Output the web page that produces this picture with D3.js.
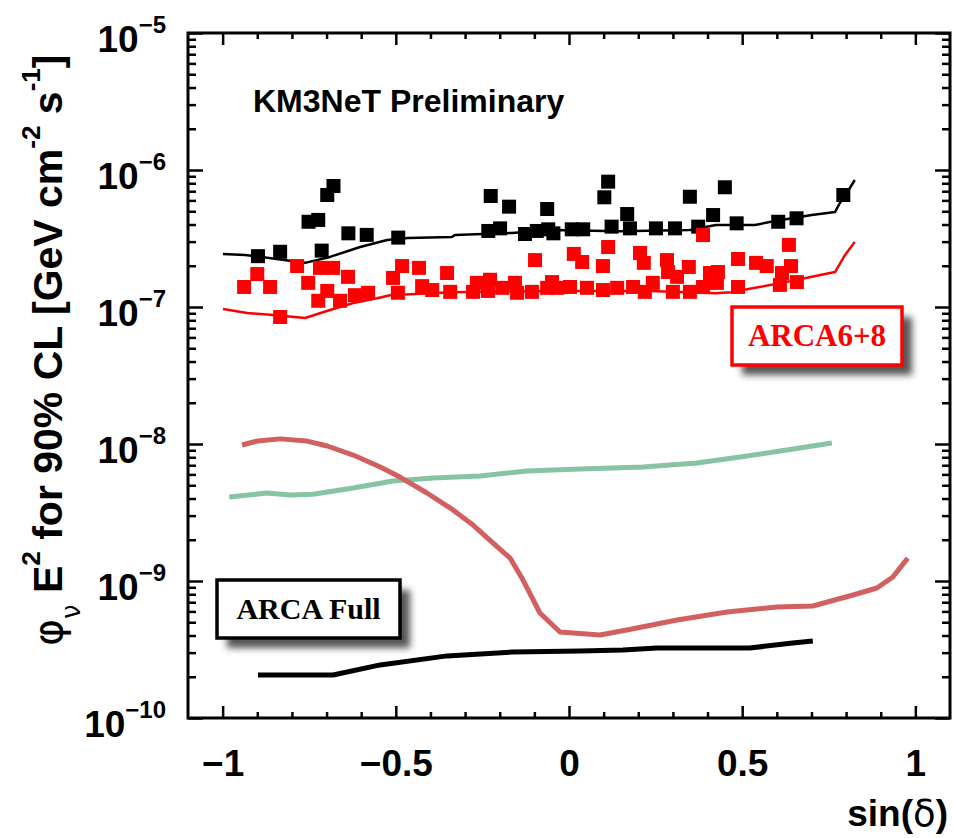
<!DOCTYPE html>
<html>
<head>
<meta charset="utf-8">
<script src="https://cdn.jsdelivr.net/npm/d3@7"></script>
<style>
  body { margin: 0; background: #fff; }
  svg { display: block; font-family: "Liberation Sans", Arial, sans-serif; }
</style>
</head>
<body>
<svg id="chart" width="953" height="838"></svg>
<script>
// [sin(dec), flux]

// ARCA6+8 per-source upper limits
const arca68Limits = [
    [-0.898, 2.35e-7], [-0.834, 2.53e-7], [-0.680, 7.64e-7], [-0.698, 6.57e-7],
    [-0.752, 4.19e-7], [-0.724, 4.32e-7], [-0.714, 2.58e-7], [-0.637, 3.45e-7],
    [-0.584, 3.36e-7], [-0.493, 3.21e-7], [-0.226, 6.46e-7], [-0.173, 5.40e-7],
    [-0.063, 5.19e-7], [-0.233, 3.59e-7], [-0.199, 3.75e-7], [-0.127, 3.41e-7],
    [-0.093, 3.59e-7], [-0.060, 3.69e-7], [-0.045, 3.45e-7], [0.113, 8.22e-7],
    [0.102, 6.32e-7], [0.349, 6.38e-7], [0.450, 7.48e-7], [0.168, 4.77e-7],
    [0.008, 3.69e-7], [0.041, 3.69e-7], [0.123, 3.86e-7], [0.176, 3.75e-7],
    [0.251, 3.75e-7], [0.306, 3.75e-7], [0.373, 3.86e-7], [0.416, 4.69e-7],
    [0.484, 4.08e-7], [0.604, 4.19e-7], [0.657, 4.44e-7], [0.792, 6.57e-7]
];

// ARCA6+8 red points
const arca68Red = [
    [-0.938, 1.40e-7], [-0.900, 1.74e-7], [-0.863, 1.40e-7], [-0.785, 1.99e-7],
    [-0.753, 1.50e-7], [-0.834, 8.45e-8], [-0.719, 1.93e-7], [-0.681, 1.93e-7],
    [-0.638, 1.66e-7], [-0.698, 1.31e-7], [-0.724, 1.11e-7], [-0.661, 1.11e-7],
    [-0.618, 1.22e-7], [-0.580, 1.27e-7], [-0.508, 1.63e-7], [-0.482, 1.99e-7],
    [-0.433, 1.93e-7], [-0.352, 1.77e-7], [-0.494, 1.27e-7], [-0.424, 1.42e-7],
    [-0.395, 1.33e-7], [-0.343, 1.29e-7], [-0.277, 1.29e-7], [-0.266, 1.50e-7],
    [-0.228, 1.58e-7], [-0.234, 1.31e-7], [-0.193, 1.38e-7], [-0.156, 1.50e-7],
    [-0.150, 1.27e-7], [-0.107, 1.29e-7], [-0.098, 2.20e-7], [-0.063, 1.38e-7],
    [-0.049, 1.52e-7], [-0.035, 1.38e-7], [0.003, 1.40e-7], [0.014, 2.44e-7],
    [0.038, 2.13e-7], [0.052, 1.38e-7], [0.098, 1.33e-7], [0.098, 1.99e-7],
    [0.113, 2.74e-7], [0.139, 1.38e-7], [0.185, 1.40e-7], [0.205, 2.48e-7],
    [0.216, 2.10e-7], [0.219, 1.29e-7], [0.242, 1.50e-7], [0.283, 2.20e-7],
    [0.286, 1.80e-7], [0.300, 1.29e-7], [0.312, 1.66e-7], [0.346, 1.96e-7],
    [0.349, 1.29e-7], [0.387, 3.35e-7], [0.387, 1.40e-7], [0.407, 1.77e-7],
    [0.427, 1.50e-7], [0.430, 1.80e-7], [0.488, 2.24e-7], [0.488, 1.40e-7],
    [0.540, 2.10e-7], [0.571, 1.99e-7], [0.635, 2.84e-7], [0.641, 1.99e-7],
    [0.615, 1.77e-7], [0.609, 1.45e-7], [0.658, 1.52e-7]
];

const arca68BlackLine = [
    [-0.999, 2.44e-7], [-0.935, 2.40e-7], [-0.762, 2.10e-7], [-0.690, 2.32e-7],
    [-0.603, 2.74e-7], [-0.525, 3.08e-7], [-0.465, 3.19e-7], [-0.338, 3.24e-7],
    [-0.329, 3.36e-7], [-0.165, 3.47e-7], [-0.049, 3.65e-7], [0.147, 3.57e-7],
    [0.349, 3.65e-7], [0.424, 3.97e-7], [0.537, 3.97e-7], [0.595, 4.24e-7],
    [0.701, 4.69e-7], [0.768, 4.93e-7], [0.782, 5.74e-7], [0.802, 6.79e-7],
    [0.825, 8.45e-7]
];

const arca68RedLine = [
    [-0.999, 9.67e-8], [-0.929, 9.04e-8], [-0.854, 8.75e-8], [-0.762, 8.31e-8],
    [-0.690, 9.51e-8], [-0.623, 1.07e-7], [-0.554, 1.16e-7], [-0.517, 1.22e-7],
    [-0.343, 1.28e-7], [-0.055, 1.31e-7], [0.234, 1.31e-7], [0.421, 1.26e-7],
    [0.470, 1.28e-7], [0.537, 1.38e-7], [0.615, 1.50e-7], [0.701, 1.66e-7],
    [0.768, 1.80e-7], [0.797, 2.40e-7], [0.825, 2.98e-7]
];

// ARCA full curves
const fullGreen = [
    [-0.981, 4.10e-9], [-0.872, 4.39e-9], [-0.805, 4.24e-9], [-0.739, 4.30e-9],
    [-0.623, 4.77e-9], [-0.508, 5.37e-9], [-0.392, 5.65e-9], [-0.257, 5.84e-9],
    [-0.121, 6.35e-9], [0.032, 6.57e-9], [0.214, 6.79e-9], [0.369, 7.27e-9],
    [0.494, 8.04e-9], [0.629, 9.04e-9], [0.759, 1.017e-8]
];

const fullSalmon = [
    [-0.944, 9.84e-9], [-0.900, 1.05e-8], [-0.834, 1.09e-8], [-0.756, 1.05e-8],
    [-0.698, 9.67e-9], [-0.623, 8.31e-9], [-0.545, 6.80e-9], [-0.488, 5.74e-9],
    [-0.410, 4.39e-9], [-0.335, 3.30e-9], [-0.277, 2.56e-9], [-0.219, 1.89e-9],
    [-0.170, 1.47e-9], [-0.133, 1.02e-9], [-0.084, 5.84e-10], [-0.026, 4.24e-10],
    [0.089, 4.03e-10], [0.167, 4.39e-10], [0.312, 5.19e-10], [0.456, 5.94e-10],
    [0.600, 6.46e-10], [0.704, 6.57e-10], [0.820, 7.90e-10], [0.889, 8.89e-10],
    [0.935, 1.07e-9], [0.978, 1.47e-9]
];

const fullBlack = [
    [-0.898, 2.06e-10], [-0.681, 2.06e-10], [-0.545, 2.44e-10], [-0.352, 2.84e-10],
    [-0.162, 3.03e-10], [0.032, 3.08e-10], [0.156, 3.13e-10], [0.254, 3.24e-10],
    [0.522, 3.24e-10], [0.646, 3.53e-10], [0.704, 3.65e-10]
];

const xMajor = [-1, -0.5, 0, 0.5, 1];
const xTickLabels = ["\u22121", "\u22120.5", "0", "0.5", "1"];
const yDecades = [-10, -9, -8, -7, -6, -5];


const frame = {left: 188, right: 950, top: 33, bottom: 718};
const x = d3.scaleLinear().domain([-1.1, 1.1]).range([frame.left, frame.right]);
const y = d3.scaleLog().domain([1e-10, 1e-5]).range([frame.bottom, frame.top]);

const svg = d3.select("#chart");

const defs = svg.append("defs");
defs.append("filter").attr("id", "blur")
    .attr("x", "-20%").attr("y", "-20%").attr("width", "140%").attr("height", "140%")
    .append("feGaussianBlur").attr("stdDeviation", 3.5);

// ticks on all four sides, pointing into the frame
const xMinor = d3.range(-10, 11).map(i => i / 10).filter(v => !xMajor.some(m => Math.abs(m - v) < 1e-9));
const yMajor = yDecades.map(e => Math.pow(10, e));
const yMinor = [];
yDecades.slice(0, -1).forEach(e => d3.range(2, 10).forEach(k => yMinor.push(k * Math.pow(10, e))));

function ticks(axis, values, size, transform) {
    svg.append("g")
        .attr("transform", transform)
        .call(axis.tickValues(values).tickSize(size).tickFormat(""))
        .call(g => g.select(".domain").remove())
        .selectAll("line")
        .attr("stroke", "#000")
        .attr("stroke-width", 2.5);
}
ticks(d3.axisTop(x), xMajor, 12, `translate(0,${frame.bottom})`);
ticks(d3.axisTop(x), xMinor, 6, `translate(0,${frame.bottom})`);
ticks(d3.axisBottom(x), xMajor, 12, `translate(0,${frame.top})`);
ticks(d3.axisBottom(x), xMinor, 6, `translate(0,${frame.top})`);
ticks(d3.axisRight(y), yMajor, 15, `translate(${frame.left},0)`);
ticks(d3.axisRight(y), yMinor, 8, `translate(${frame.left},0)`);
ticks(d3.axisLeft(y), yMajor, 15, `translate(${frame.right},0)`);
ticks(d3.axisLeft(y), yMinor, 8, `translate(${frame.right},0)`);

svg.append("rect")
    .attr("x", frame.left).attr("y", frame.top)
    .attr("width", frame.right - frame.left)
    .attr("height", frame.bottom - frame.top)
    .attr("fill", "none").attr("stroke", "#000").attr("stroke-width", 3);

// x tick labels
const xLabels = svg.append("g")
    .attr("transform", `translate(0,${frame.bottom})`)
    .call(d3.axisBottom(x).tickValues(xMajor).tickSize(0).tickPadding(32)
        .tickFormat((d, i) => xTickLabels[i]));
xLabels.select(".domain").remove();
xLabels.selectAll("text")
    .attr("font-family", "Liberation Sans, Arial, sans-serif")
    .attr("font-size", 37).attr("font-weight", "bold").attr("fill", "#000");

// y tick labels, 10^n
const yLab = svg.append("g").selectAll("text")
    .data(yDecades).enter().append("text")
    .attr("x", 166)
    .attr("y", d => y(Math.pow(10, d)) + 19)
    .attr("text-anchor", "end")
    .attr("font-size", 37).attr("font-weight", "bold");
yLab.append("tspan").text("10");
yLab.append("tspan").attr("dy", -19).attr("font-size", 24)
    .text(d => "\u2212" + Math.abs(d));

// axis titles
svg.append("text")
    .attr("x", 948).attr("y", 826)
    .attr("text-anchor", "end")
    .attr("font-size", 37).attr("font-weight", "bold")
    .html('sin(<tspan font-family="DejaVu Sans" font-weight="normal">\u03b4</tspan>)');

const yTitle = svg.append("text")
    .attr("transform", "translate(62,646) rotate(-90)")
    .attr("font-size", 41).attr("font-weight", "bold");
yTitle.append("tspan").attr("font-family", "DejaVu Sans").attr("font-weight", "normal").text("\u03c6");
yTitle.append("tspan").attr("font-family", "DejaVu Sans").attr("font-weight", "normal")
    .attr("font-size", 26).attr("dy", 18).text("\u03bd");
yTitle.append("tspan").attr("dy", -18).text(" E");
yTitle.append("tspan").attr("font-size", 26).attr("dy", -22).text("2");
yTitle.append("tspan").attr("dy", 22).text(" for 90% CL [GeV cm");
yTitle.append("tspan").attr("font-size", 26).attr("dy", -22).text("-2");
yTitle.append("tspan").attr("dy", 22).text(" s");
yTitle.append("tspan").attr("font-size", 26).attr("dy", -22).text("-1");
yTitle.append("tspan").attr("dy", 22).text("]");

svg.append("text")
    .attr("x", 253).attr("y", 112)
    .attr("font-size", 32).attr("font-weight", "bold")
    .text("KM3NeT Preliminary");

// curves
const line = d3.line().x(d => x(d[0])).y(d => y(d[1]));
function curve(data, color, width) {
    svg.append("path").datum(data)
        .attr("d", line)
        .attr("fill", "none")
        .attr("stroke", color)
        .attr("stroke-width", width)
        .attr("stroke-linejoin", "round");
}
function squares(data, color) {
    const s = 14;
    svg.append("g").selectAll("rect")
        .data(data).enter().append("rect")
        .attr("x", d => x(d[0]) - s / 2)
        .attr("y", d => y(d[1]) - s / 2)
        .attr("width", s).attr("height", s)
        .attr("fill", color);
}

curve(fullGreen, "#86c4a3", 5);
curve(fullSalmon, "#d36060", 5);
curve(fullBlack, "#000", 5);

curve(arca68BlackLine, "#000", 2.5);
squares(arca68Limits, "#000");
curve(arca68RedLine, "#ff0000", 2.5);
squares(arca68Red, "#ff0000");

// labelled boxes with a soft shadow
function labelBox(bx, by, bw, bh, color, label, size) {
    const g = svg.append("g");
    g.append("rect")
        .attr("x", bx + 10).attr("y", by + 10)
        .attr("width", bw).attr("height", bh)
        .attr("fill", "#555").attr("filter", "url(#blur)");
    g.append("rect")
        .attr("x", bx).attr("y", by)
        .attr("width", bw).attr("height", bh)
        .attr("fill", "#fff").attr("stroke", color).attr("stroke-width", 3.5);
    g.append("text")
        .attr("x", bx + bw / 2).attr("y", by + bh / 2 + size * 0.33)
        .attr("text-anchor", "middle")
        .attr("font-family", "Liberation Serif, Times New Roman, serif")
        .attr("font-weight", "bold")
        .attr("font-size", size)
        .attr("fill", color)
        .text(label);
}
labelBox(732, 307, 170, 58, "#ff0000", "ARCA6+8", 31);
labelBox(217, 580, 183, 58, "#000", "ARCA Full", 30);
</script>
</body>
</html>
